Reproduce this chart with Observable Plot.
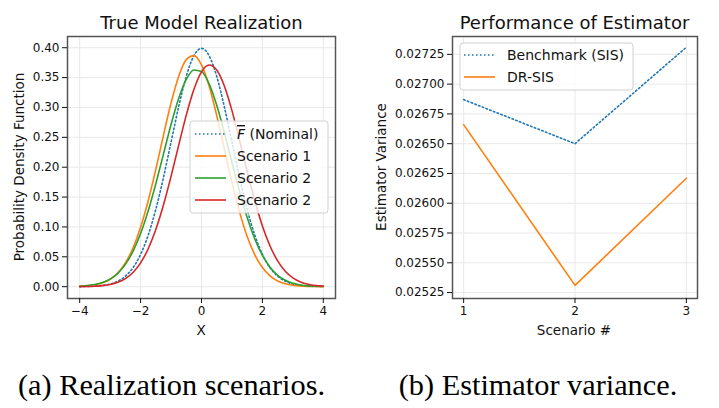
<!DOCTYPE html>
<html>
<head>
<meta charset="utf-8">
<script src="https://cdn.jsdelivr.net/npm/d3@7"></script>
<script src="https://cdn.jsdelivr.net/npm/@observablehq/plot@0.6"></script>
<style>
  html, body { margin: 0; padding: 0; background: #fff; }
  #page { position: relative; width: 719px; height: 408px; overflow: hidden; font-family: "DejaVu Sans", sans-serif; }
  #left, #right, #overlay { position: absolute; top: 0; }
  #left { left: 0; }
  #right { left: 360px; }
  #overlay { left: 0; pointer-events: none; }
</style>
</head>
<body>
<div id="page">
  <div id="left"></div>
  <div id="right"></div>
  <svg id="overlay" width="719" height="408"></svg>
</div>
<script>
// ---- Data: left panel (densities) ----
const xs = [-4,-3.75,-3.5,-3.25,-3,-2.75,-2.5,-2.25,-2,-1.75,-1.5,-1.25,-1,-0.75,-0.5,-0.25,0,0.25,0.5,0.75,1,1.25,1.5,1.75,2,2.25,2.5,2.75,3,3.25,3.5,3.75,4];
const nominal = [0.0001,0.0004,0.0009,0.0020,0.0044,0.0091,0.0175,0.0317,0.0540,0.0863,0.1295,0.1826,0.2420,0.3011,0.3521,0.3867,0.3989,0.3867,0.3521,0.3011,0.2420,0.1826,0.1295,0.0863,0.0540,0.0317,0.0175,0.0091,0.0044,0.0020,0.0009,0.0004,0.0001];
const scenarioA = [0.0006,0.0014,0.0031,0.0064,0.0125,0.0229,0.0396,0.0645,0.0993,0.1438,0.1964,0.2532,0.3074,0.3520,0.3801,0.3868,0.3712,0.3358,0.2864,0.2304,0.1746,0.1248,0.0841,0.0534,0.0320,0.0181,0.0096,0.0048,0.0023,0.0010,0.0004,0.0002,0.0001];
const scenarioB = [0.0008,0.0017,0.0035,0.0068,0.0127,0.0223,0.0373,0.0591,0.0889,0.1270,0.1723,0.2219,0.2714,0.3150,0.3469,0.3628,0.3601,0.3394,0.3036,0.2579,0.2079,0.1591,0.1156,0.0797,0.0522,0.0324,0.0191,0.0107,0.0057,0.0029,0.0014,0.0006,0.0003];
const scenarioC = [0.0001,0.0003,0.0008,0.0017,0.0036,0.0072,0.0134,0.0238,0.0399,0.0635,0.0956,0.1366,0.1847,0.2366,0.2872,0.3301,0.3596,0.3710,0.3627,0.3359,0.2947,0.2449,0.1929,0.1438,0.1016,0.0681,0.0432,0.0259,0.0148,0.0080,0.0041,0.0020,0.0009];
const leftXTicks = [-4,-2,0,2,4];
const leftYTicks = [0,0.05,0.10,0.15,0.20,0.25,0.30,0.35,0.40];
const leftLegend = ["(Nominal)", "Scenario 1", "Scenario 2", "Scenario 2"];

// ---- Data: right panel (estimator variance) ----
const scenarios = [1,2,3];
const benchmark = [0.02687,0.02650,0.02731];
const drsis = [0.02666,0.02531,0.02621];
const rightYTicks = [0.02525,0.02550,0.02575,0.02600,0.02625,0.02650,0.02675,0.02700,0.02725];
const rightLegend = ["Benchmark (SIS)", "DR-SIS"];

const C = {blue:"#1f77b4", orange:"#ff7f0e", green:"#2ca02c", red:"#d62728"};
const dotted = "1.5,2.5";
const gridColor = "#e8e8e8";
const frameColor = "#555";

const rows = ys => xs.map((x, i) => ({x, y: ys[i]}));

const common = {
  height: 345,
  marginTop: 36,
  marginBottom: 47,
  style: {fontFamily: "DejaVu Sans", fontSize: "12px", color: "#111", background: "transparent", overflow: "visible"}
};

const left = Plot.plot({
  ...common,
  width: 345,
  marginLeft: 67,
  marginRight: 10,
  x: {domain: [-4.4, 4.4]},
  y: {domain: [-0.0198, 0.4188]},
  marks: [
    Plot.gridX(leftXTicks, {stroke: gridColor, strokeOpacity: 1}),
    Plot.gridY(leftYTicks, {stroke: gridColor, strokeOpacity: 1}),
    Plot.line(rows(nominal), {x: "x", y: "y", stroke: C.blue, strokeWidth: 1.6, strokeDasharray: dotted, curve: "monotone-x"}),
    Plot.line(rows(scenarioA), {x: "x", y: "y", stroke: C.orange, strokeWidth: 1.6, curve: "monotone-x"}),
    Plot.line(rows(scenarioB), {x: "x", y: "y", stroke: C.green, strokeWidth: 1.6, curve: "monotone-x"}),
    Plot.line(rows(scenarioC), {x: "x", y: "y", stroke: C.red, strokeWidth: 1.6, curve: "monotone-x"}),
    Plot.frame({stroke: frameColor, strokeWidth: 1.5}),
    Plot.axisX(leftXTicks, {tickSize: 5, tickPadding: 3, label: null, fontSize: 12}),
    Plot.axisY(leftYTicks, {tickSize: 5, tickPadding: 3, label: null, fontSize: 12, tickFormat: d3.format(".2f")})
  ]
});
document.getElementById("left").appendChild(left);

const right = Plot.plot({
  ...common,
  width: 359,
  marginLeft: 92,
  marginRight: 22,
  x: {domain: [0.9, 3.1]},
  y: {domain: [0.0252, 0.0274]},
  marks: [
    Plot.gridX(scenarios, {stroke: gridColor, strokeOpacity: 1}),
    Plot.gridY(rightYTicks, {stroke: gridColor, strokeOpacity: 1}),
    Plot.line(scenarios.map((s, i) => ({s, v: benchmark[i]})), {x: "s", y: "v", stroke: C.blue, strokeWidth: 1.6, strokeDasharray: dotted}),
    Plot.line(scenarios.map((s, i) => ({s, v: drsis[i]})), {x: "s", y: "v", stroke: C.orange, strokeWidth: 1.6}),
    Plot.frame({stroke: frameColor, strokeWidth: 1.5}),
    Plot.axisX(scenarios, {tickSize: 5, tickPadding: 3, label: null, fontSize: 12, tickFormat: d3.format("d")}),
    Plot.axisY(rightYTicks, {tickSize: 5, tickPadding: 3, label: null, fontSize: 12, tickFormat: d3.format(".5f")})
  ]
});
document.getElementById("right").appendChild(right);

// ---- Overlay: titles, axis labels, legends, captions ----
const ov = d3.select("#overlay");
const sans = "DejaVu Sans";
function txt(x, y, s, opts = {}) {
  const t = ov.append("text").attr("x", x).attr("y", y)
    .attr("text-anchor", opts.anchor || "middle")
    .attr("font-family", opts.family || sans)
    .attr("font-size", opts.size || 13)
    .attr("fill", opts.fill || "#111")
    .text(s);
  if (opts.rotate) t.attr("transform", `rotate(-90,${x},${y})`);
  return t;
}
// titles
txt(201.5, 29, "True Model Realization", {size: 18});
txt(574.5, 29, "Performance of Estimator", {size: 18});
// axis labels
txt(201, 335, "X", {size: 13.5});
txt(574, 335, "Scenario #", {size: 13.5});
txt(24, 167, "Probability Density Function", {size: 13.5, rotate: true});
txt(386, 167, "Estimator Variance", {size: 13.5, rotate: true});

// legends
function legendBox(x, y, w, h) {
  ov.append("rect").attr("x", x).attr("y", y).attr("width", w).attr("height", h)
    .attr("rx", 3).attr("fill", "#fff").attr("fill-opacity", 0.8)
    .attr("stroke", "#d0d0d0").attr("stroke-width", 1);
}
function legendItem(x0, x1, tx, cy, color, dash, label, isNominal) {
  const l = ov.append("line").attr("x1", x0).attr("x2", x1).attr("y1", cy).attr("y2", cy)
    .attr("stroke", color).attr("stroke-width", 1.6);
  if (dash) l.attr("stroke-dasharray", dash);
  const t = ov.append("text").attr("x", tx).attr("y", cy + 5)
    .attr("font-family", sans).attr("font-size", 14).attr("fill", "#111");
  if (isNominal) {
    t.append("tspan").attr("font-style", "italic").attr("text-decoration", "overline").text("F");
    t.append("tspan").text(" " + label);
  } else {
    t.text(label);
  }
}
legendBox(190, 121, 138, 92);
const leftColors = [C.blue, C.orange, C.green, C.red];
const leftY = [134, 156, 178, 200];
leftLegend.forEach((lab, i) => legendItem(195, 226, 237, leftY[i], leftColors[i], i === 0 ? dotted : null, lab, i === 0));

legendBox(460, 43, 173, 47);
const rightColors = [C.blue, C.orange];
const rightY = [55, 77];
rightLegend.forEach((lab, i) => legendItem(464, 495, 507, rightY[i], rightColors[i], i === 0 ? dotted : null, lab, false));

// captions
txt(171.5, 395, "(a) Realization scenarios.", {size: 30.3, family: "Liberation Serif", fill: "#000"});
txt(538, 395, "(b) Estimator variance.", {size: 30.3, family: "Liberation Serif", fill: "#000"});
</script>
</body>
</html>
